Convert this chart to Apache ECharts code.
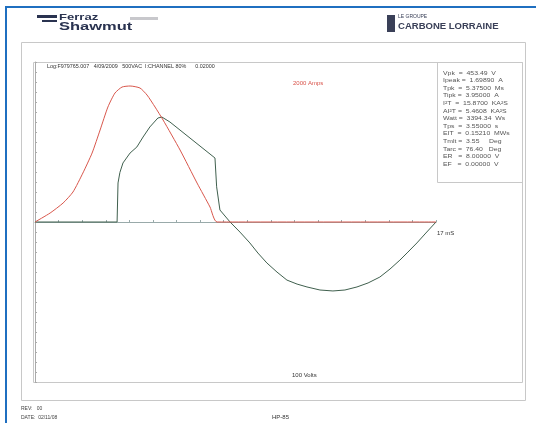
<!DOCTYPE html>
<html><head><meta charset="utf-8">
<script src="https://cdn.jsdelivr.net/npm/echarts@6/dist/echarts.min.js"></script>
<style>html,body{margin:0;padding:0;background:#fff}#c{width:536px;height:423px}</style>
</head><body><div id="c"></div>
<script>
// time in ms, current in A
const currentTime = [0, 0.64, 1.19, 1.61, 2.03, 2.42, 2.76, 3.09, 3.39, 3.69, 4.03, 4.45, 4.75, 5.09, 5.43, 6.15, 6.87, 7.42, 7.72, 17];
const currentAmps = [0, 112, 237, 375, 612, 862, 1150, 1437, 1612, 1687, 1700, 1675, 1587, 1437, 1275, 900, 487, 187, 0, 0];
// time in ms, voltage in V
const voltageTime = [0, 3.48, 3.52, 3.60, 3.73, 4.03, 4.32, 4.58, 4.87, 5.21, 5.38, 5.72, 7.63, 7.70, 7.84, 8.27, 8.69, 9.11, 9.45, 9.83, 10.26, 10.68, 11.11, 11.53, 12.08, 12.63, 13.14, 13.65, 14.12, 14.62, 15.05, 15.47, 15.81, 16.19, 16.57, 17];
const voltageVolts = [0, 0, 24.4, 31.0, 36.9, 43.1, 46.9, 53.1, 59.4, 65.0, 65.6, 62.5, 40.0, 22.0, 7.5, 0, -6.3, -13.1, -19.4, -25.6, -31.3, -36.3, -38.8, -40.6, -42.5, -43.1, -42.5, -40.6, -38.1, -34.4, -29.4, -23.8, -18.8, -13.1, -6.9, 0];
const statLines = [
  "Vpk  =  453.49  V",
  "Ipeak =  1.69890  A",
  "Tpk  =  5.37500  Ms",
  "Tipk =  3.95000  A",
  "I²T  =  15.8700  KA²S",
  "AI²T =  5.4608  KA²S",
  "Watt =  3394.34  Ws",
  "Tps  =  3.55000  s",
  "EIT  =  0.15210  MWs",
  "Tmlt =  3.55     Deg",
  "Tarc =  76.40   Deg",
  "ER   =  8.00000  V",
  "EF   =  0.00000  V"
];
const headerText = "Log:F979765.007   4/09/2009   500VAC  I:CHANNEL 80%      0.02000";

const chart = echarts.init(document.getElementById('c'), null, {renderer:'canvas'});
const ff = 'Liberation Sans, Arial, sans-serif';
const graphics = [
  {type:'rect', shape:{x:6,y:7,width:540,height:430}, style:{fill:'none', stroke:'#1f6fc0', lineWidth:2}, z:0},
  {type:'rect', shape:{x:21.5,y:42.5,width:504,height:358}, style:{fill:'none', stroke:'#c8c8c8', lineWidth:1}},
  {type:'rect', shape:{x:33.5,y:62.5,width:489,height:320}, style:{fill:'none', stroke:'#c8c8c8', lineWidth:1}},
  {type:'rect', shape:{x:437.5,y:62.5,width:85,height:120}, style:{fill:'none', stroke:'#c8c8c8', lineWidth:1}},
  // logos
  {type:'rect', shape:{x:37,y:15,width:20,height:3}, style:{fill:'#2a3350'}},
  {type:'rect', shape:{x:42,y:20,width:15,height:2}, style:{fill:'#2a3350'}},
  {type:'text', x:59, y:13, scaleX:1.45, style:{text:'Ferraz', font:'bold 9px '+ff, fill:'#2a3350'}},
  {type:'rect', shape:{x:130,y:17,width:28,height:3}, style:{fill:'#c8c8cc'}},
  {type:'text', x:59, y:21, scaleX:1.5, style:{text:'Shawmut', font:'bold 11px '+ff, fill:'#2a3350'}},
  {type:'rect', shape:{x:387,y:15,width:8,height:17}, style:{fill:'#3a4058'}},
  {type:'text', x:398, y:14, style:{text:'LE GROUPE', font:'5px '+ff, fill:'#3a4058'}},
  {type:'text', x:398, y:22, scaleX:1.12, style:{text:'CARBONE LORRAINE', font:'bold 8.5px '+ff, fill:'#3a4058'}},
  // texts
  {type:'text', x:47, y:64, scaleX:1.08, style:{text:headerText, font:'5px '+ff, fill:'#333'}},
  {type:'text', x:293, y:80, style:{text:'2000 Amps', font:'6px '+ff, fill:'#d9534a'}},
  {type:'text', x:437, y:230, style:{text:'17 mS', font:'6px '+ff, fill:'#333'}},
  {type:'text', x:292, y:372, style:{text:'100 Volts', font:'6px '+ff, fill:'#333'}},
  {type:'text', x:21, y:406, style:{text:'REV:   00', font:'5px '+ff, fill:'#444'}},
  {type:'text', x:21, y:415, style:{text:'DATE:  02/11/08', font:'5px '+ff, fill:'#444'}},
  {type:'text', x:272, y:414, style:{text:'HP-85', font:'6px '+ff, fill:'#333'}}
];
statLines.forEach((t,i)=>{
  graphics.push({type:'text', x:443, y:70+i*7.6, scaleX:1.25, style:{text:t, font:'5.5px '+ff, fill:'#555'}});
});

chart.setOption({
  animation:false,
  backgroundColor:'#fff',
  grid:{left:35, right:100, top:62, bottom:41},
  xAxis:{type:'value', min:0, max:17, interval:1,
    axisLine:{onZero:true, lineStyle:{color:'#9aa', width:1}},
    axisTick:{show:true, length:2, inside:true, lineStyle:{color:'#9aa'}},
    axisLabel:{show:false}, splitLine:{show:false}},
  yAxis:[
    {type:'value', min:-2000, max:2000, interval:125,
      axisLine:{show:true, lineStyle:{color:'#aaa'}},
      axisTick:{show:true, length:2, inside:true, lineStyle:{color:'#aaa'}},
      axisLabel:{show:false}, splitLine:{show:false}},
    {type:'value', min:-100, max:100, show:false, splitLine:{show:false}}
  ],
  series:[
    {type:'line', name:'Voltage', yAxisIndex:1, showSymbol:false, z:3,
      data: voltageTime.map((t,i)=>[t, voltageVolts[i]]),
      lineStyle:{color:'#40604e', width:1}},
    {type:'line', name:'Current', yAxisIndex:0, showSymbol:false, z:4,
      data: currentTime.map((t,i)=>[t, currentAmps[i]]),
      smooth:0.2,
      lineStyle:{color:'#d9574c', width:1}}
  ],
  graphic: graphics
});
</script></body></html>
